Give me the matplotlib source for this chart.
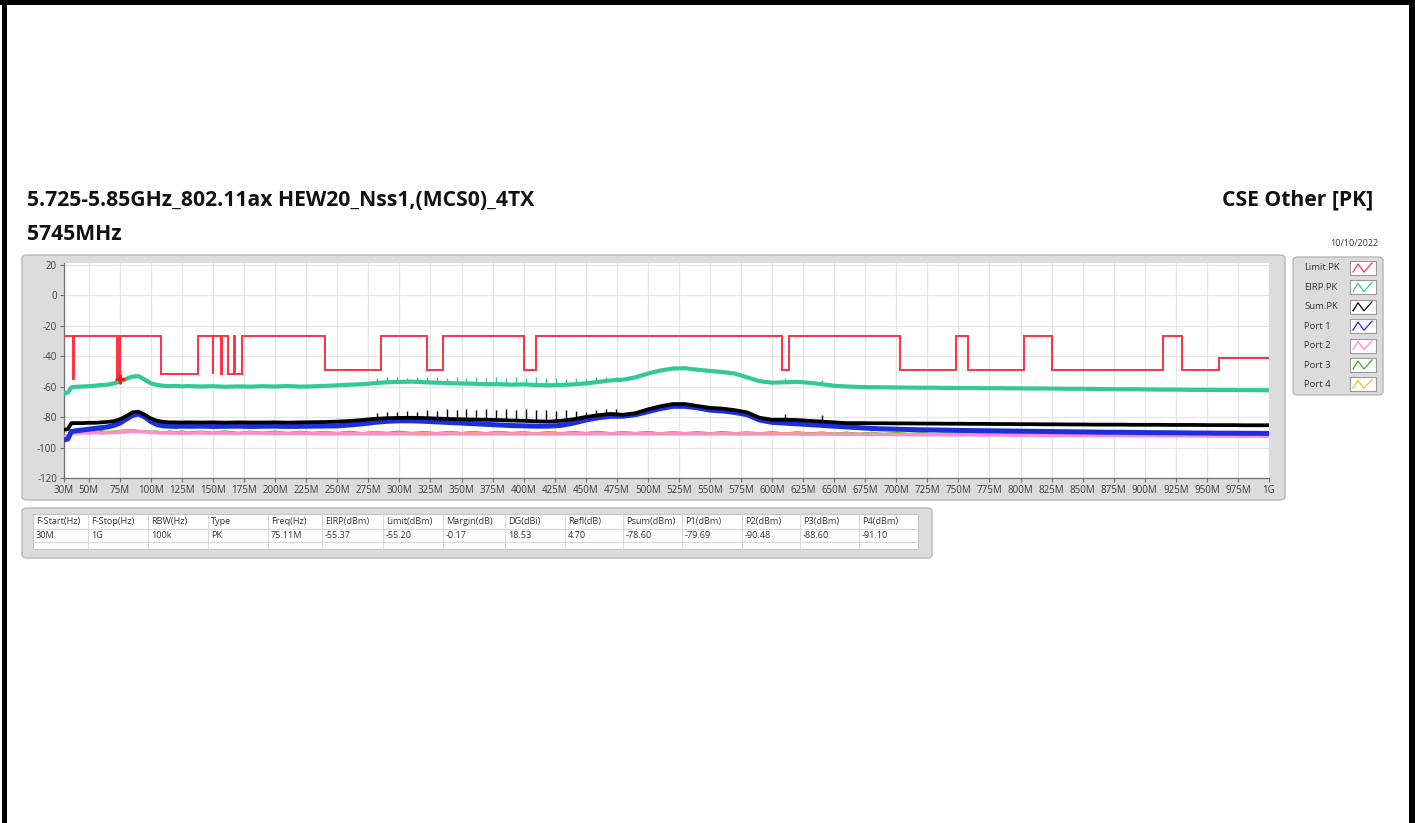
import matplotlib
matplotlib.use("Agg")
import matplotlib.pyplot as plt
from matplotlib.patches import FancyBboxPatch, Rectangle
from matplotlib.lines import Line2D

plt.rcParams['font.family'] = ['Open Sans', 'DejaVu Sans']
plt.rcParams['axes.unicode_minus'] = False

# ---------------- data ----------------
title_left = "5.725-5.85GHz_802.11ax HEW20_Nss1,(MCS0)_4TX"
title_right = "CSE Other [PK]"
subtitle = "5745MHz"
date_text = "10/10/2022"

freq_mhz = [30, 33, 36, 40, 45, 50, 55, 60, 65, 70, 75, 80, 85, 90, 95, 100, 105, 110, 115, 120, 125, 130,
            140, 150, 160, 170, 180, 190, 200, 210, 220, 230,
            240, 250, 260, 270, 280, 290, 300, 310, 320, 330,
            340, 350, 360, 370, 380, 390, 400, 410, 420, 430,
            440, 450, 460, 470, 480, 490, 500, 510, 520, 530,
            540, 550, 560, 570, 580, 590, 600, 610, 620, 630,
            640, 650, 660, 670, 680, 690, 700, 710, 720, 730,
            740, 750, 760, 770, 780, 790, 800, 810, 820, 830,
            840, 850, 860, 870, 880, 890, 900, 910, 920, 930,
            940, 950, 960, 970, 980, 990, 1000]

eirp_pk = [-64.5, -64.0, -60.5, -60.2, -60.0, -59.8, -59.5, -59.0, -58.8, -58.0, -56.8, -55.0, -53.5, -53.2, -55.5, -58.0, -59.0, -59.5, -59.8, -59.6, -59.9, -59.7,
           -60.0, -59.8, -60.2, -59.9, -60.1, -59.8, -60.0, -59.7, -60.1, -59.9,
           -59.6, -59.2, -58.8, -58.5, -57.8, -57.2, -57.0, -56.8, -57.2, -57.5,
           -57.8, -58.0, -58.2, -58.5, -58.5, -58.8, -58.6, -59.0, -59.2, -59.0,
           -58.6, -58.0, -57.0, -56.0, -55.5, -54.0, -51.5, -49.5, -48.2, -48.0,
           -49.0, -49.8, -50.5, -51.5, -54.0, -56.5, -57.5, -57.2, -57.0, -57.5,
           -58.5, -59.5, -60.0, -60.3, -60.5, -60.5, -60.6, -60.7, -60.8, -60.8,
           -60.9, -61.0, -61.0, -61.1, -61.1, -61.2, -61.2, -61.3, -61.3, -61.4,
           -61.5, -61.5, -61.6, -61.7, -61.8, -61.8, -61.9, -62.0, -62.0, -62.1,
           -62.2, -62.2, -62.3, -62.3, -62.4, -62.4, -62.5]

sum_pk = [-88.3, -88.0, -84.0, -84.0, -84.0, -83.8, -83.8, -83.5, -83.2, -82.8, -81.5, -79.5, -77.0, -76.5, -78.5, -81.0, -82.5, -83.2, -83.5, -83.5, -83.6, -83.5,
          -83.6, -83.5, -83.7, -83.5, -83.6, -83.6, -83.5, -83.7, -83.5, -83.4,
          -83.3, -83.0, -82.6, -82.0, -81.2, -80.8, -80.6, -80.5, -80.7, -81.0,
          -81.3, -81.5, -81.7, -81.8, -82.0, -82.3, -82.5, -82.8, -83.0, -82.5,
          -81.5, -80.0, -78.8, -78.0, -78.5, -77.5, -75.0, -73.0, -71.5, -71.5,
          -72.8, -74.0, -74.5, -75.5, -77.0, -80.5, -81.8, -81.8, -82.0, -82.5,
          -83.0, -83.5, -84.0, -84.0, -84.1, -84.1, -84.2, -84.2, -84.3, -84.3,
          -84.4, -84.4, -84.5, -84.5, -84.6, -84.6, -84.7, -84.7, -84.8, -84.8,
          -84.9, -84.9, -85.0, -85.0, -85.0, -85.1, -85.1, -85.1, -85.2, -85.2,
          -85.2, -85.3, -85.3, -85.3, -85.4, -85.4, -85.4]

port1 = [-95.0, -94.5, -89.5, -89.0, -88.5, -88.0, -87.5, -87.0, -86.5, -85.5, -84.0, -81.5, -79.0, -78.0, -80.0, -83.0, -85.0, -85.8, -86.0, -86.2, -86.0, -86.1,
         -86.0, -86.2, -86.1, -86.0, -86.2, -86.1, -86.0, -86.2, -86.1, -86.0,
         -85.9, -85.8, -85.2, -84.5, -83.5, -82.8, -82.5, -82.5, -82.8, -83.2,
         -83.6, -84.0, -84.4, -84.8, -85.2, -85.6, -85.8, -86.0, -86.0, -85.5,
         -84.0, -82.0, -80.5, -79.5, -79.5, -78.5, -76.5, -74.5, -73.0, -73.0,
         -74.0, -75.5, -76.0, -77.0, -78.5, -82.0, -83.5, -84.0, -84.5, -85.0,
         -85.5, -86.0, -86.5, -87.0, -87.5, -87.8, -88.0, -88.2, -88.4, -88.5,
         -88.6, -88.8, -88.9, -89.0, -89.1, -89.2, -89.3, -89.4, -89.5, -89.6,
         -89.7, -89.8, -89.9, -90.0, -90.0, -90.1, -90.2, -90.3, -90.3, -90.4,
         -90.5, -90.5, -90.6, -90.6, -90.7, -90.7, -90.8]

port2 = [-93.0, -92.5, -90.5, -90.6, -90.4, -90.5, -90.3, -90.6, -90.4, -90.2, -90.0, -89.8, -89.5, -89.6, -89.8, -90.2, -90.4, -90.5, -90.6, -90.5, -90.7, -90.6,
         -90.5, -90.7, -90.6, -90.8, -90.6, -90.7, -90.9, -90.8, -90.7, -90.9,
         -91.0, -90.9, -91.0, -91.1, -90.9, -91.0, -91.1, -91.0, -91.2, -91.0,
         -91.1, -91.0, -91.2, -91.1, -91.0, -91.2, -91.1, -91.0, -91.2, -91.1,
         -91.0, -91.1, -90.9, -91.0, -91.1, -90.9, -91.0, -91.1, -91.0, -90.9,
         -91.0, -91.1, -91.0, -91.2, -91.1, -91.0, -91.2, -91.1, -91.2, -91.3,
         -91.2, -91.3, -91.4, -91.3, -91.5, -91.4, -91.6, -91.5, -91.7, -91.6,
         -91.7, -91.8, -91.7, -91.9, -91.8, -91.9, -92.0, -91.9, -92.0, -92.1,
         -92.0, -92.1, -92.2, -92.1, -92.2, -92.3, -92.2, -92.3, -92.4, -92.3,
         -92.4, -92.5, -92.4, -92.5, -92.6, -92.5, -92.6]

port3 = [-92.5, -92.0, -90.0, -89.6, -90.2, -89.4, -90.0, -89.2, -89.8, -89.5, -89.0, -88.8, -88.6, -89.0, -89.2, -89.6, -89.4, -90.2, -89.3, -90.0, -89.4, -90.1,
         -89.5, -90.2, -89.4, -90.3, -89.6, -90.2, -89.5, -90.4, -89.6, -90.3,
         -89.7, -90.4, -89.6, -90.5, -89.8, -90.3, -89.6, -90.4, -89.8, -90.5,
         -89.7, -90.4, -89.8, -90.5, -89.7, -90.4, -89.9, -90.6, -89.8, -90.5,
         -89.8, -90.4, -89.7, -90.5, -89.9, -90.4, -89.8, -90.6, -89.9, -90.5,
         -89.9, -90.6, -89.8, -90.5, -90.0, -90.6, -89.9, -90.7, -90.0, -90.6,
         -90.1, -90.8, -90.2, -90.9, -90.3, -91.0, -90.4, -91.0, -90.5, -91.1,
         -90.6, -91.2, -90.7, -91.3, -90.8, -91.3, -90.9, -91.4, -91.0, -91.5,
         -91.1, -91.6, -91.2, -91.7, -91.3, -91.8, -91.4, -91.9, -91.5, -92.0,
         -91.6, -92.1, -91.7, -92.2, -91.8, -92.2, -91.9]

port4 = [-92.8, -92.2, -90.2, -90.5, -89.5, -90.3, -89.6, -90.4, -89.5, -90.1, -89.3, -89.2, -88.9, -89.5, -89.6, -90.2, -89.6, -90.4, -89.7, -90.4, -89.8, -90.5,
         -89.8, -90.5, -89.9, -90.6, -89.8, -90.5, -90.0, -90.6, -89.9, -90.7,
         -90.0, -90.6, -90.1, -90.7, -90.0, -90.8, -90.1, -90.7, -90.2, -90.8,
         -90.1, -90.8, -90.2, -90.7, -90.1, -90.8, -90.2, -90.9, -90.1, -90.8,
         -90.2, -90.8, -90.1, -90.9, -90.2, -90.8, -90.3, -90.9, -90.2, -90.8,
         -90.3, -90.9, -90.2, -90.8, -90.3, -91.0, -90.3, -90.9, -90.4, -91.0,
         -90.5, -91.1, -90.6, -91.2, -90.7, -91.3, -90.8, -91.3, -90.9, -91.4,
         -91.0, -91.5, -91.1, -91.6, -91.2, -91.6, -91.3, -91.7, -91.4, -91.8,
         -91.5, -91.9, -91.6, -92.0, -91.7, -92.1, -91.8, -92.2, -91.9, -92.3,
         -92.0, -92.4, -92.1, -92.4, -92.2, -92.5, -92.3]

# narrow spurs on EIRP / Sum traces
spur_freq = [282, 290, 298, 306, 314, 322, 330, 338, 346, 354, 362, 370, 378, 386, 394,
             402, 410, 418, 426, 434, 442, 450, 458, 466, 474, 610, 640]
eirp_spur_top = [-54.5, -54.0, -53.8, -54.2, -53.6, -54.0, -53.5, -54.3, -53.8, -54.1, -53.6, -54.4, -53.9, -54.2,
                 -54.0, -54.3, -53.7, -54.6, -54.2, -54.8, -54.4, -54.9, -54.0, -53.8, -53.5, -54.5, -56.0]
eirp_spur_base = [-58.0, -57.5, -57.2, -57.0, -57.0, -57.2, -57.5, -57.8, -58.0, -58.2, -58.4, -58.5, -58.5, -58.7,
                  -58.8, -58.7, -59.0, -59.1, -59.2, -59.1, -58.8, -58.2, -57.5, -56.5, -56.0, -57.3, -58.6]
sum_spur_top = [-77.5, -77.0, -76.5, -76.0, -76.5, -75.5, -76.0, -75.0, -75.5, -75.0, -75.5, -74.5, -75.3, -74.8,
                -75.5, -75.0, -75.7, -75.3, -76.0, -75.5, -76.3, -76.5, -75.5, -75.0, -74.5, -78.0, -78.5]
sum_spur_base = [-81.5, -81.0, -80.7, -80.6, -80.6, -80.8, -81.1, -81.4, -81.6, -81.8, -81.9, -82.0, -82.2, -82.4,
                 -82.6, -82.8, -83.0, -82.9, -82.6, -82.0, -81.2, -80.2, -79.0, -78.5, -78.2, -82.0, -83.2]

# limit line (step function): band edges [MHz] and level [dBm] for each band
limit_edges = [30, 37.5, 38.25, 73, 74.6, 74.8, 75.2, 108, 138, 149.9, 150.05, 156.52, 156.9, 162.01,
               167.17, 167.72, 173.2, 240, 285, 322, 335.4, 399.9, 410, 608, 614, 703, 748, 758,
               803, 825, 915, 930, 960, 1000]
limit_levels = [-27, -55.2, -27, -55.2, -27, -55.2, -27, -51.7, -27, -51.7, -27, -51.7, -27, -51.7,
                -27, -51.7, -27, -49.2, -27, -49.2, -27, -49.2, -27, -49.2, -27, -49.2, -27, -49.2,
                -27, -49.2, -27, -49.2, -41.2]

marker_freq = 75.11
marker_eirp = -55.37

x_ticks = [30, 50, 75, 100, 125, 150, 175, 200, 225, 250, 275, 300, 325, 350, 375, 400, 425, 450, 475,
           500, 525, 550, 575, 600, 625, 650, 675, 700, 725, 750, 775, 800, 825, 850, 875, 900, 925, 950,
           975, 1000]
x_tick_labels = ["30M", "50M", "75M", "100M", "125M", "150M", "175M", "200M", "225M", "250M", "275M",
                 "300M", "325M", "350M", "375M", "400M", "425M", "450M", "475M", "500M", "525M", "550M",
                 "575M", "600M", "625M", "650M", "675M", "700M", "725M", "750M", "775M", "800M", "825M",
                 "850M", "875M", "900M", "925M", "950M", "975M", "1G"]
y_ticks = [20, 0, -20, -40, -60, -80, -100, -120]

legend_labels = ["Limit.PK", "EIRP.PK", "Sum.PK", "Port 1", "Port 2", "Port 3", "Port 4"]
series_colors = ["#FF3045", "#33C995", "#000000", "#1C2FE0", "#FF8CC8", "#2DB52D", "#FFB43A"]

table_headers = ["F-Start(Hz)", "F-Stop(Hz)", "RBW(Hz)", "Type", "Freq(Hz)", "EIRP(dBm)", "Limit(dBm)",
                 "Margin(dB)", "DG(dBi)", "Refl(dB)", "Psum(dBm)", "P1(dBm)", "P2(dBm)", "P3(dBm)", "P4(dBm)"]
table_values = ["30M", "1G", "100k", "PK", "75.11M", "-55.37", "-55.20", "-0.17", "18.53", "4.70",
                "-78.60", "-79.69", "-90.48", "-88.60", "-91.10"]

# ---------------- layout ----------------
W, H = 1415, 823
fig = plt.figure(figsize=(W / 100, H / 100), dpi=100)
fig.patch.set_facecolor("white")


def fx(x):
    return x / W


def fy(y):
    return 1 - y / H


def panel(x0, y0, x1, y1, fc="#DCDCDC", ec="#B8B8B8"):
    p = FancyBboxPatch((fx(x0), fy(y1)), (x1 - x0) / W, (y1 - y0) / H,
                       boxstyle="round,pad=0,rounding_size=0.004", transform=fig.transFigure,
                       fc=fc, ec=ec, lw=1.0, zorder=-5)
    fig.patches.append(p)


# page frame (black edges)
for (x0, y0, w, h) in [(0, 0, W, 5), (2, 0, 5, H), (1409, 0, 6, H)]:
    fig.patches.append(Rectangle((fx(x0), fy(y0 + h)), w / W, h / H, transform=fig.transFigure,
                                 fc="black", ec="none", zorder=5))

# titles
fig.text(fx(27), fy(200), title_left, fontsize=15.2, fontweight="bold", ha="left", va="center", color="#111111")
fig.text(fx(1373), fy(200), title_right, fontsize=15.2, fontweight="bold", ha="right", va="center", color="#111111")
fig.text(fx(27), fy(235), subtitle, fontsize=15.2, fontweight="bold", ha="left", va="center", color="#111111")
fig.text(fx(1378), fy(243), date_text, fontsize=6.5, ha="right", va="center", color="#333333")

# chart panel
panel(22, 255, 1285, 500)

ax = fig.add_axes([fx(64), fy(478), (1269 - 64) / W, (478 - 263) / H])
ax.set_zorder(1)
ax.set_facecolor("white")
ax.set_xlim(30, 1000)
ax.set_ylim(-120, 21)
ax.set_xticks(x_ticks)
ax.set_xticklabels(x_tick_labels)
ax.set_yticks(y_ticks)
ax.grid(True, color="#E6E6E6", lw=0.9)
ax.set_axisbelow(True)
for s in ["top", "right"]:
    ax.spines[s].set_visible(False)
for s in ["left", "bottom"]:
    ax.spines[s].set_color("#707070")
    ax.spines[s].set_linewidth(0.9)
ax.tick_params(axis="both", labelsize=7, colors="#707070", labelcolor="#3C3C3C", length=3, width=0.8, pad=2)

# traces
ax.plot(freq_mhz, port3, color=series_colors[5], lw=1.4, zorder=2)
ax.plot(freq_mhz, port4, color=series_colors[6], lw=1.4, zorder=2)
ax.plot(freq_mhz, port2, color=series_colors[4], lw=2.4, zorder=3)
ax.plot(freq_mhz, port1, color=series_colors[3], lw=3.6, zorder=4)
ax.plot(freq_mhz, sum_pk, color=series_colors[2], lw=2.7, zorder=4)
ax.vlines(spur_freq, sum_spur_base, sum_spur_top, color=series_colors[2], lw=1.0, zorder=4)
ax.plot(freq_mhz, eirp_pk, color=series_colors[1], lw=3.0, zorder=5)
ax.vlines(spur_freq, eirp_spur_base, eirp_spur_top, color=series_colors[1], lw=1.0, zorder=5)
ax.stairs(limit_levels, limit_edges, baseline=None, color=series_colors[0], lw=1.4, zorder=6)
ax.plot([marker_freq], [marker_eirp], marker="+", color="#FF1010", ms=7, mew=2, zorder=7)

# legend panel
panel(1293, 257, 1383, 395)
for i, (lab, col) in enumerate(zip(legend_labels, series_colors)):
    yc = 268 + 19.4 * i
    fig.text(fx(1304), fy(yc), lab, fontsize=6.8, ha="left", va="center", color="#333333")
    fig.patches.append(Rectangle((fx(1350), fy(yc + 7)), 26 / W, 14 / H, transform=fig.transFigure,
                                 fc="white", ec="#9A9A9A", lw=0.8, zorder=2))
    fig.lines.append(Line2D([fx(1353), fx(1358), fx(1364), fx(1372)],
                            [fy(yc + 4), fy(yc - 4), fy(yc + 4), fy(yc - 5)],
                            transform=fig.transFigure, color=col, lw=0.9, zorder=3))

# table panel
panel(22, 508, 932, 558)
fig.patches.append(Rectangle((fx(33), fy(549)), (918 - 33) / W, (549 - 514) / H, transform=fig.transFigure,
                             fc="white", ec="#C4C4C4", lw=0.8, zorder=1))
col_edges = [33, 88, 148, 208, 268, 322, 383, 443, 505, 565, 623, 682, 742, 800, 859, 918]
for xe in col_edges[1:-1]:
    fig.lines.append(Line2D([fx(xe), fx(xe)], [fy(514), fy(549)], transform=fig.transFigure,
                            color="#D6D6D6", lw=0.7, zorder=2))
for ye in [529, 542]:
    fig.lines.append(Line2D([fx(33), fx(918)], [fy(ye), fy(ye)], transform=fig.transFigure,
                            color="#D6D6D6", lw=0.7, zorder=2))
for i, (hd, val) in enumerate(zip(table_headers, table_values)):
    x0 = col_edges[i] + 3
    fig.text(fx(x0), fy(521.5), hd, fontsize=6.6, ha="left", va="center", color="#333333")
    fig.text(fx(x0), fy(536), val, fontsize=6.6, ha="left", va="center", color="#333333")

fig.savefig("out.png", dpi=100, facecolor="white")
